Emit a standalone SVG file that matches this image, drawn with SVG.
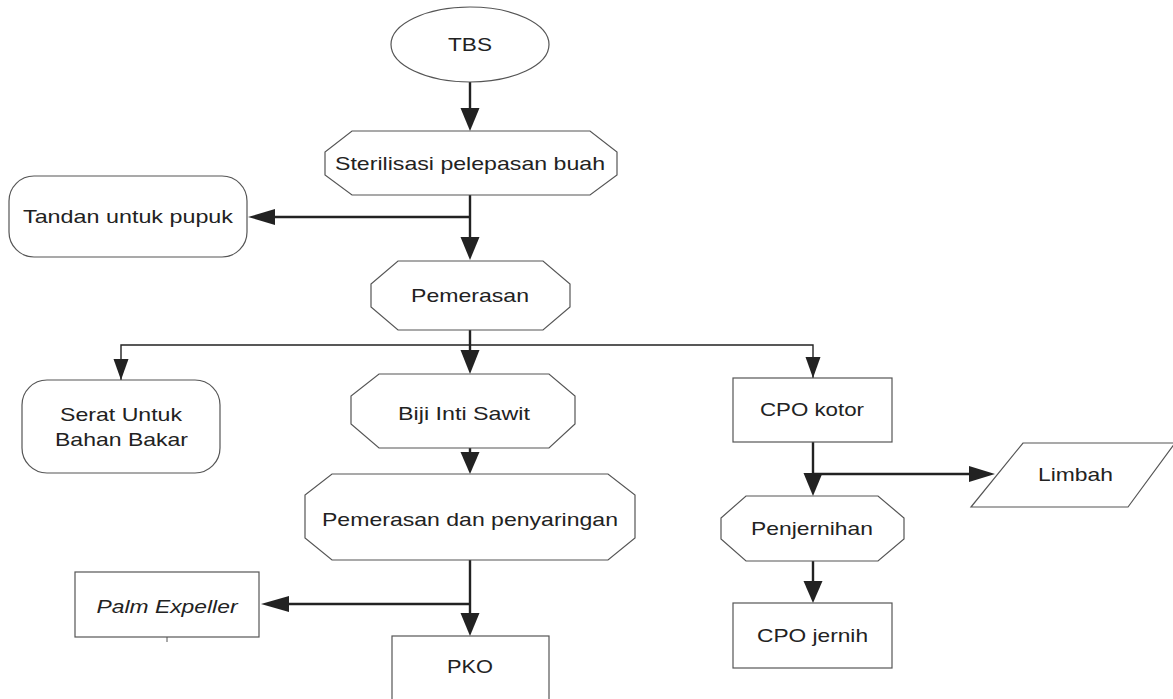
<svg xmlns="http://www.w3.org/2000/svg" width="1173" height="699" viewBox="0 0 1173 699">
<style>
.n{fill:#fff;stroke:#555;stroke-width:1.2}
.t{font-family:"Liberation Sans",Arial,sans-serif;font-size:19px;fill:#222;text-anchor:middle}
.c{fill:none;stroke:#222;stroke-width:2.4}
.c2{fill:none;stroke:#222;stroke-width:1.4}
.h{fill:#222;stroke:none}
</style>
<rect width="1173" height="699" fill="#fff"/>
<g id="connectors">
<line class="c" x1="470" y1="82" x2="470" y2="110"/>
<polygon class="h" points="460.5,108 479.5,108 470,131"/>
<line class="c" x1="470" y1="195" x2="470" y2="238"/>
<polygon class="h" points="460.5,237 479.5,237 470,260"/>
<line class="c" x1="470" y1="217" x2="273" y2="217"/>
<polygon class="h" points="275,209 275,225 248,217"/>
<line class="c" x1="470" y1="330" x2="470" y2="352"/>
<polygon class="h" points="460.5,350 479.5,350 470,374"/>
<polyline class="c2" points="121,380 121,345 813,345 813,378"/>
<polygon class="h" points="113.5,359 128.5,359 121,380"/>
<polygon class="h" points="805.5,357 820.5,357 813,378"/>
<line class="c" x1="470" y1="448" x2="470" y2="454"/>
<polygon class="h" points="460.5,452 479.5,452 470,474"/>
<line class="c" x1="470" y1="560" x2="470" y2="615"/>
<polygon class="h" points="460.5,613 479.5,613 470,636"/>
<line class="c" x1="470" y1="604" x2="287" y2="604"/>
<polygon class="h" points="289,596 289,612 261,604"/>
<line class="c" x1="813" y1="442" x2="813" y2="475"/>
<polygon class="h" points="803.5,473 822.5,473 813,496"/>
<line class="c" x1="813" y1="474" x2="971" y2="474"/>
<polygon class="h" points="969,466 969,482 995,474"/>
<line class="c" x1="813" y1="561" x2="813" y2="583"/>
<polygon class="h" points="803.5,581 822.5,581 813,603"/>
<line x1="167" y1="637" x2="167" y2="642" stroke="#555" stroke-width="1"/>
</g>
<g id="tbs">
<ellipse class="n" cx="470" cy="44.5" rx="79" ry="37.5"/>
<text class="t" x="470" y="51" textLength="44" lengthAdjust="spacingAndGlyphs">TBS</text>
</g>
<g id="sterilisasi">
<polygon class="n" points="352,131 590,131 617,152 617,175 590,195 352,195 325,175 325,152"/>
<text class="t" x="470" y="170" textLength="270" lengthAdjust="spacingAndGlyphs">Sterilisasi pelepasan buah</text>
</g>
<g id="tandan">
<rect class="n" x="9" y="176" width="238" height="81" rx="25" ry="25"/>
<text class="t" x="128" y="223" textLength="210" lengthAdjust="spacingAndGlyphs">Tandan untuk pupuk</text>
</g>
<g id="pemerasan">
<polygon class="n" points="398,261 543,261 570,284 570,307 543,330 398,330 371,307 371,284"/>
<text class="t" x="470" y="302" textLength="118" lengthAdjust="spacingAndGlyphs">Pemerasan</text>
</g>
<g id="serat">
<rect class="n" x="22" y="380" width="198" height="93" rx="25" ry="25"/>
<text class="t" x="121" y="421" textLength="122" lengthAdjust="spacingAndGlyphs">Serat Untuk</text>
<text class="t" x="121.5" y="446" textLength="133" lengthAdjust="spacingAndGlyphs">Bahan Bakar</text>
</g>
<g id="biji">
<polygon class="n" points="379,374 549,374 575,396 575,424 549,448 379,448 351,424 351,396"/>
<text class="t" x="464" y="420" textLength="132" lengthAdjust="spacingAndGlyphs">Biji Inti Sawit</text>
</g>
<g id="cpo-kotor">
<rect class="n" x="733" y="378" width="159" height="64"/>
<text class="t" x="812" y="416" textLength="104" lengthAdjust="spacingAndGlyphs">CPO kotor</text>
</g>
<g id="limbah">
<polygon class="n" points="1023,443 1175,443 1128,507 971,507"/>
<text class="t" x="1075.5" y="481" textLength="75" lengthAdjust="spacingAndGlyphs">Limbah</text>
</g>
<g id="pemerasan-penyaringan">
<polygon class="n" points="332,474 608,474 635,495 635,538 608,560 332,560 305,538 305,495"/>
<text class="t" x="470" y="526" textLength="296" lengthAdjust="spacingAndGlyphs">Pemerasan dan penyaringan</text>
</g>
<g id="penjernihan">
<polygon class="n" points="746,496 878,496 904,518 904,539 878,561 746,561 721,539 721,518"/>
<text class="t" x="812" y="535" textLength="122" lengthAdjust="spacingAndGlyphs">Penjernihan</text>
</g>
<g id="palm-expeller">
<rect class="n" x="75" y="572" width="184" height="65"/>
<text class="t" x="167" y="613" font-style="italic" textLength="141" lengthAdjust="spacingAndGlyphs">Palm Expeller</text>
</g>
<g id="pko">
<rect class="n" x="392" y="636" width="157" height="80"/>
<text class="t" x="470" y="673" textLength="46" lengthAdjust="spacingAndGlyphs">PKO</text>
</g>
<g id="cpo-jernih">
<rect class="n" x="733" y="603" width="159" height="65"/>
<text class="t" x="812.5" y="642" textLength="111" lengthAdjust="spacingAndGlyphs">CPO jernih</text>
</g>
</svg>
